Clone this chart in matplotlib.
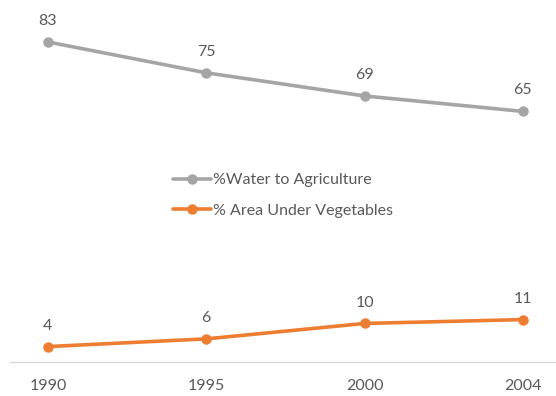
import matplotlib.pyplot as plt

years = ["1990", "1995", "2000", "2004"]
water = [83, 75, 69, 65]
veg = [4, 6, 10, 11]

gray = "#A5A5A5"
orange = "#ED7D31"
txt = "#595959"

plt.rcParams['font.family'] = ['Lato', 'DejaVu Sans']

fig = plt.figure(figsize=(5.56, 3.96), dpi=100, facecolor="white")
ax = fig.add_axes([10/556, 34/396, 546/556, 347/396])

x = list(range(len(years)))
ax.plot(x, water, color=gray, lw=2.6, marker="o", ms=6.5,
        label="%Water to Agriculture", solid_capstyle="round")
ax.plot(x, veg, color=orange, lw=2.6, marker="o", ms=6.5,
        label="% Area Under Vegetables", solid_capstyle="round")

for xi, v in zip(x, water):
    ax.annotate(str(v), (xi, v), xytext=(0, 10), textcoords="offset points",
                ha="center", va="bottom", fontsize=11.5, color=txt)
for xi, v in zip(x, veg):
    ax.annotate(str(v), (xi, v), xytext=(0, 10), textcoords="offset points",
                ha="center", va="bottom", fontsize=11.5, color=txt)

ax.set_xlim(-0.24, 3.21)
ax.set_ylim(0, 90)
ax.set_xticks(x)
ax.set_xticklabels(years, fontsize=11.5, color=txt)
ax.tick_params(axis="x", length=0, pad=12)
ax.set_yticks([])
for s in ["top", "right", "left"]:
    ax.spines[s].set_visible(False)
ax.spines["bottom"].set_color("#D9D9D9")
ax.spines["bottom"].set_linewidth(1)

leg = ax.legend(loc="center", bbox_to_anchor=(0.5, 0.48), frameon=False,
                fontsize=11.5, handlelength=2.4, handletextpad=0.15,
                labelspacing=1.0)
for t in leg.get_texts():
    t.set_color(txt)

fig.savefig("out.png", dpi=100)
